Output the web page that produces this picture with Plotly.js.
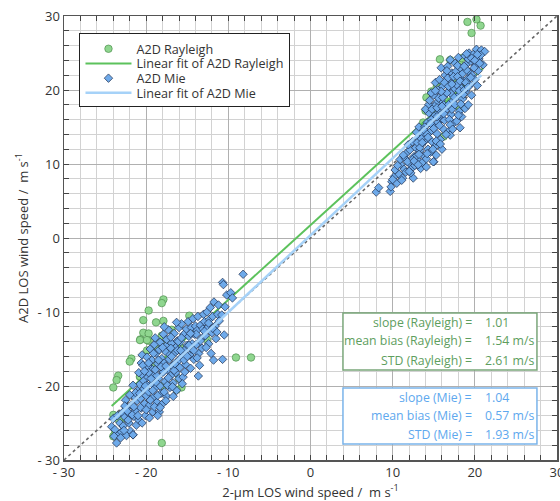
<!DOCTYPE html>
<html><head><meta charset="utf-8">
<script src="https://cdn.plot.ly/plotly-3.0.1.min.js"></script>
<style>body{margin:0;background:#fff}#c{width:560px;height:501px}</style>
</head><body><div id="c"></div>
<script>
// A2D Rayleigh (x: 2-um LOS wind, y: A2D LOS wind)
const rayX = [-17.9,-18.1,-19.7,-20.35,-18.8,-17.9,-14.75,-16.9,-20.35,-19.7,-20.7,-19.7,-18.7,-18.1,-17.5,-19.9,-18.9,-18.4,-12.6,-21.8,-22.0,-23.4,-23.6,-24.0,-20.75,-15.7,-16.3,-9.07,-7.24,-18.1,-24.0,-23.8,-24.0,-23.0,-15.9,-20.75,-19.9,-18.7,-20.75,-19.0,-17.0,-16.0,-21.0,-18.0,-23.3,-22.5,
  19.1,20.2,20.7,19.6,15.75,17.0,18.1,18.4,15.96,14.7,14.1,13.7,16.2,18.2,15.35,18.2,14.0,16.5,17.3];
const rayY = [-8.3,-8.8,-9.8,-11.1,-11.4,-11.2,-10.5,-12.4,-12.8,-12.9,-13.7,-13.9,-14.2,-13.2,-14.0,-15.2,-15.0,-14.8,-13.7,-16.3,-16.7,-18.6,-19.2,-20.2,-18.8,-20.2,-20.5,-16.15,-16.15,-27.7,-23.9,-26.4,-26.8,-24.5,-14.7,-13.8,-13.8,-14.7,-18.7,-17.0,-15.0,-19.0,-21.0,-20.0,-24.6,-23.4,
  29.2,29.55,28.7,27.7,24.15,24.05,23.6,24.3,20.7,19.8,19.0,15.6,13.7,17.5,20.4,17.7,17.2,18.5,21.0];
// A2D Mie
const mieX = [8.0,8.3,9.7,9.9,9.8,10.2,10.5,10.3,
  10.8,11.0,11.2,10.9,11.4,11.5,11.1,11.7,11.6,
  12.0,12.1,12.3,11.9,12.4,12.5,12.6,12.2,12.8,12.7,
  13.0,13.1,13.3,12.9,13.4,13.5,13.2,13.6,13.0,13.7,
  13.8,14.0,14.1,14.2,14.3,14.4,13.9,14.5,14.1,14.6,14.4,14.0,
  14.8,14.9,15.0,15.1,15.2,15.3,15.0,15.4,15.5,15.3,15.6,14.7,15.2,15.5,
  15.8,15.9,16.0,16.1,16.2,16.3,16.4,15.7,16.5,16.0,16.3,16.6,15.9,16.2,
  16.8,16.9,17.0,17.1,17.2,17.3,17.0,17.4,16.7,17.5,17.2,17.6,17.0,16.8,
  17.8,17.9,18.0,18.1,18.2,18.3,18.4,17.7,18.5,18.0,18.6,18.2,18.8,18.4,
  18.9,19.0,19.1,19.2,19.3,19.4,18.8,19.5,19.6,19.3,19.7,
  19.8,20.0,20.1,20.2,20.4,20.5,20.8,21.2,20.3,21.0,20.7,14.95,
  13.8,14.2,14.7,15.1,15.6,15.8,16.1,16.4,16.7,17.1,17.4,17.8,18.1,18.5,18.7,19.0,19.2,19.6,20.0,16.9,16.2,15.4,14.8,13.5,13.3,12.8,12.4,11.8,17.6,18.3,17.9,16.6,15.9,15.3,14.9,18.7,
  12.0,12.6,13.2,13.6,14.3,14.6,15.0,15.4,15.7,16.0,16.3,16.8,17.2,17.5,17.9,18.2,18.6,18.9,19.2,19.5,19.9,20.3,17.0,16.5,15.8,14.2,13.1,11.3,10.6,10.0,18.0,17.3,16.6,19.0,20.6,15.2,14.5,
  -24.2,-23.6,-23.4,-24.0,-23.8,-23.2,-23.0,-23.5,-22.9,
  -22.8,-22.6,-22.4,-22.3,-22.1,-22.0,-22.5,-21.9,-22.2,
  -21.8,-21.6,-21.5,-21.4,-21.3,-21.2,-21.0,-21.7,-21.1,-20.9,
  -20.8,-20.7,-20.6,-20.5,-20.4,-20.3,-20.2,-20.1,-20.0,-20.6,-20.3,-20.0,-20.5,-20.9,
  -19.9,-19.8,-19.7,-19.6,-19.5,-19.4,-19.3,-19.2,-19.1,-19.0,-19.6,-19.9,-19.3,-19.0,-19.5,-19.8,
  -18.9,-18.8,-18.7,-18.6,-18.5,-18.4,-18.3,-18.2,-18.1,-18.0,-18.9,-18.6,-18.3,-18.7,-18.1,-18.4,
  -17.9,-17.8,-17.7,-17.6,-17.5,-17.4,-17.3,-17.2,-17.1,-17.0,-17.6,-17.9,-17.2,-17.5,
  -16.9,-16.8,-16.7,-16.6,-16.5,-16.4,-16.3,-16.2,-16.1,-16.0,-16.7,-16.4,-16.0,-16.9,
  -15.9,-15.8,-15.7,-15.6,-15.5,-15.4,-15.3,-15.2,-15.1,-15.0,-15.6,-15.4,
  -14.9,-14.8,-14.7,-14.6,-14.5,-14.4,-14.3,-14.2,-14.1,-14.0,-14.5,
  -13.9,-13.8,-13.7,-13.6,-13.5,-13.4,-13.3,-13.65,-13.1,-13.0,-13.2,
  -12.9,-12.8,-12.6,-12.5,-12.4,-12.3,-12.2,-12.0,-12.1,-12.7,
  -11.9,-11.75,-11.6,-11.5,-11.3,-11.2,-11.8,-11.4,-11.1,
  -10.7,-10.6,-10.2,-9.7,-9.5,-8.2,-10.5,-10.7,-10.8,-10.4,-21.6,
  -19.4,-18.9,-18.2,-17.7,-17.0,-16.6,-16.2,-19.7,-20.1,-20.7,-21.3,-19.0,-17.4,-15.8,-14.8,-13.9,-20.4,-18.6,-17.8,-22.6,
  -23.9,-23.1,-22.7,-22.0,-21.6,-21.5,-20.8,-20.2,-20.0,-19.7,-19.2,-18.8,-18.5,-18.0,-17.6,-17.3,-17.0,-16.8,-16.5,-16.1,-15.7,-15.3,-15.0,-14.6,-14.2,-13.8,-13.4,-12.9,-12.4,-11.9,-19.1,-18.3,-21.0,-22.3,-17.8,-16.3];
const mieY = [6.2,6.8,6.3,7.6,6.9,8.3,7.4,9.2,
  8.6,9.9,8.1,10.6,9.3,10.8,7.8,11.5,8.9,
  10.1,11.9,9.4,12.6,13.0,8.1,11.0,8.8,12.2,9.8,
  10.6,13.5,11.8,14.3,9.4,12.6,15.0,10.2,12.9,14.0,
  11.1,13.2,9.6,15.6,12.0,16.9,15.0,14.3,10.7,11.6,18.0,17.4,
  13.0,15.2,10.3,16.5,12.4,18.2,19.3,14.1,20.0,11.2,17.0,19.6,21.0,15.6,
  13.3,18.6,16.1,20.5,14.7,19.3,22.0,21.4,17.5,12.0,15.9,20.9,23.0,18.0,
  14.4,19.9,13.9,16.7,22.3,18.5,21.1,15.5,23.2,20.2,17.4,23.6,24.1,18.0,
  15.8,19.1,21.7,17.1,23.0,20.3,16.4,22.5,18.8,24.4,21.2,14.9,17.5,22.8,
  19.8,23.5,21.5,18.0,22.4,20.7,24.6,23.9,19.3,25.0,22.0,
  24.8,21.4,23.3,25.5,22.6,24.2,25.4,25.2,20.6,23.4,24.7,10.3,
  14.6,14.0,16.0,17.8,18.9,16.6,19.0,17.2,21.6,19.5,21.8,20.7,19.9,22.2,20.0,22.7,24.2,24.3,24.0,16.0,16.8,16.4,17.4,13.4,12.2,11.0,10.6,10.3,18.0,18.1,23.3,19.6,19.8,13.1,12.0,23.2,
  9.0,10.4,11.3,12.9,13.6,15.5,14.8,17.6,15.2,17.8,21.0,20.5,20.8,19.0,21.8,21.2,19.4,21.0,20.4,21.7,23.0,24.8,15.3,14.0,12.7,11.4,9.9,11.2,9.8,7.9,16.6,14.7,22.6,24.9,23.6,19.9,18.6,
  -25.5,-27.7,-26.6,-24.4,-25.9,-25.0,-26.2,-24.0,-23.6,
  -25.4,-24.2,-26.7,-22.9,-25.0,-23.8,-21.9,-26.1,-24.6,
  -22.6,-26.6,-24.1,-21.5,-23.3,-25.3,-20.6,-23.9,-22.0,-24.6,
  -19.8,-21.7,-23.0,-25.0,-18.6,-20.4,-22.4,-24.0,-17.4,-16.9,-19.3,-21.3,-15.8,-18.2,
  -16.1,-18.8,-20.8,-22.6,-15.0,-17.6,-19.7,-23.5,-21.5,-14.4,-24.3,-19.9,-16.5,-18.5,-21.9,-17.3,
  -20.3,-15.6,-22.2,-17.0,-19.0,-23.5,-14.1,-21.0,-16.3,-18.1,-13.5,-24.0,-20.0,-18.6,-22.5,-15.1,
  -13.0,-16.9,-19.4,-14.6,-21.4,-17.8,-12.4,-15.7,-20.2,-18.6,-22.0,-18.1,-16.4,-13.7,
  -14.2,-17.3,-19.6,-12.9,-15.5,-18.2,-20.6,-13.9,-16.6,-12.1,-21.4,-14.8,-19.0,-16.0,
  -17.5,-14.0,-11.6,-16.0,-18.8,-13.0,-15.1,-17.1,-12.3,-14.5,-19.7,-16.5,
  -11.3,-13.3,-15.8,-17.6,-12.1,-14.3,-10.9,-16.4,-13.0,-11.9,-15.0,
  -14.4,-12.5,-10.6,-15.6,-17.2,-11.8,-13.6,-18.65,-12.3,-10.3,-14.9,
  -11.3,-13.2,-10.0,-12.1,-14.3,-11.0,-9.4,-12.8,-15.6,-14.8,
  -10.6,-8.65,-11.9,-13.6,-10.3,-9.05,-16.5,-12.7,-11.2,
  -6.0,-6.3,-7.7,-7.4,-8.1,-4.9,-13.1,-16.4,-10.4,-9.3,-26.6,
  -19.0,-17.8,-17.4,-15.3,-14.9,-17.9,-15.2,-18.2,-20.0,-22.9,-20.9,-22.8,-19.9,-15.2,-14.5,-13.0,-17.2,-21.3,-20.8,-22.7,
  -26.8,-27.0,-26.0,-21.2,-19.9,-22.8,-21.0,-18.0,-23.2,-16.9,-20.6,-19.5,-16.5,-14.8,-17.3,-18.9,-13.4,-20.1,-17.0,-14.0,-13.5,-18.1,-16.0,-12.9,-15.2,-16.2,-13.9,-12.6,-11.5,-12.2,-15.6,-22.9,-24.0,-23.4,-12.0,-11.4];
// Linear fits: x-range and fitted y values
const fitRayX = [-24.2, 21.0];
const fitRayY = [-22.7, 22.95];
const fitMieX = [-24.2, 20.8];
const fitMieY = [-24.8, 22.0];
const oneX = [-30, 30];
const oneY = [-30, 30];
// Axis ticks
const tickVals = [-30,-20,-10,0,10,20,30];
const tickText = ['- 30','- 20','- 10','0','10','20','30'];
// Statistics boxes
const rayLabels = ['slope (Rayleigh) =','mean bias (Rayleigh) =','STD (Rayleigh) ='];
const rayValues = ['1.01','1.54 m/s','2.61 m/s'];
const mieLabels = ['slope (Mie) =','mean bias (Mie) =','STD (Mie) ='];
const mieValues = ['1.04','0.57 m/s','1.93 m/s'];

const FONT = 'Open Sans, DejaVu Sans, sans-serif';
const green = '#5e9e5e', blue = '#5ea8ee';

const traces = [
  {x: oneX, y: oneY, mode: 'lines', line: {color: '#666', width: 1.6, dash: 'dot'}, showlegend: false, hoverinfo: 'skip'},
  {x: rayX, y: rayY, mode: 'markers', name: 'A2D Rayleigh',
   marker: {symbol: 'circle', size: 7.5, color: '#8fd68f', line: {color: '#4e8f4e', width: 0.7}}},
  {x: fitRayX, y: fitRayY, mode: 'lines', name: 'Linear fit of A2D Rayleigh', line: {color: '#5cc25c', width: 2}},
  {x: mieX, y: mieY, mode: 'markers', name: 'A2D Mie',
   marker: {symbol: 'diamond', size: 6.5, color: '#6eaaea', line: {color: '#1c2c4c', width: 0.7}}},
  {x: fitMieX, y: fitMieY, mode: 'lines', name: 'Linear fit of A2D Mie', line: {color: '#a6d2f8', width: 2.5}}
];

const annotations = [];
const rayRows = [-11.4, -13.85, -16.5];
const mieRows = [-21.5, -23.95, -26.55];
rayLabels.forEach((t,i)=>{
  annotations.push({x: 19.85, y: rayRows[i], xref:'x', yref:'y', text: t, showarrow:false, xanchor:'right', font:{family:FONT, size:12.3, color: green}});
  annotations.push({x: 21.0, y: rayRows[i], xref:'x', yref:'y', text: rayValues[i], showarrow:false, xanchor:'left', font:{family:FONT, size:12.3, color: green}});
});
mieLabels.forEach((t,i)=>{
  annotations.push({x: 19.85, y: mieRows[i], xref:'x', yref:'y', text: t, showarrow:false, xanchor:'right', font:{family:FONT, size:12.3, color: blue}});
  annotations.push({x: 21.0, y: mieRows[i], xref:'x', yref:'y', text: mieValues[i], showarrow:false, xanchor:'left', font:{family:FONT, size:12.3, color: blue}});
});

const axisCommon = {
  range: [-30, 30], tickvals: tickVals, ticktext: tickText, ticklabeloverflow: 'allow',
  ticks: 'inside', ticklen: 5, tickwidth: 1, tickcolor: '#444',
  showline: true, linecolor: '#555', linewidth: 1.5, mirror: 'ticks',
  showgrid: true, gridcolor: '#b0b0b0', gridwidth: 1, zeroline: false,
  minor: {dtick: 2, tick0: 0, showgrid: true, gridcolor: '#d2d2d2', gridwidth: 1, ticks: 'inside', ticklen: 5, tickcolor: '#444'},
  tickfont: {family: FONT, size: 13, color: '#333'}
};

const layout = {
  width: 560, height: 501,
  margin: {l: 64, r: 3, t: 16, b: 41},
  paper_bgcolor: '#fff', plot_bgcolor: '#fff',
  font: {family: FONT, color: '#333'},
  xaxis: Object.assign({}, axisCommon, {title: {text: '2-μm LOS wind speed /  m s<sup>-1</sup>', font: {family: FONT, size: 13, color: '#333'}, standoff: 4}}),
  yaxis: Object.assign({}, axisCommon, {title: {text: 'A2D LOS wind speed /  m s<sup>-1</sup>', font: {family: FONT, size: 13, color: '#333'}, standoff: 6}}),
  legend: {x: 0.031, y: 0.962, xanchor: 'left', yanchor: 'top', bgcolor: '#fff', bordercolor: '#222', borderwidth: 1.2,
           font: {family: FONT, size: 12.6, color: '#333'}, tracegroupgap: 0, itemwidth: 46},
  shapes: [
    {type: 'rect', xref: 'x', yref: 'y', x0: 3.95, x1: 27.56, y0: -10.14, y1: -17.84, line: {color: '#7aa67a', width: 1.5}, fillcolor: 'rgba(255,255,255,1)', layer: 'above'},
    {type: 'rect', xref: 'x', yref: 'y', x0: 3.95, x1: 27.56, y0: -20.27, y1: -27.84, line: {color: '#7ab4ea', width: 1.5}, fillcolor: 'rgba(255,255,255,1)', layer: 'above'}
  ],
  annotations: annotations
};

Plotly.newPlot('c', traces, layout, {displayModeBar: false, staticPlot: true}).then(gd => {
  // tighten legend row spacing to match the reference
  const items = gd.querySelectorAll('.legend .traces');
  if (!items.length) return;
  const parse = el => { const m = /translate\(([-\d.]+),\s*([-\d.]+)\)/.exec(el.getAttribute('transform') || ''); return m ? [+m[1], +m[2]] : [0, 0]; };
  const first = parse(items[0]);
  const last = parse(items[items.length - 1]);
  const orig = items.length > 1 ? (last[1] - first[1]) / (items.length - 1) : 0;
  const step = 14.7;
  items.forEach((el, i) => { const p = parse(el); el.setAttribute('transform', `translate(${p[0]},${first[1] + i * step})`); });
  const bg = gd.querySelector('.legend rect.bg');
  if (bg) { const h = parseFloat(bg.getAttribute('height')); bg.setAttribute('height', h - (items.length - 1) * (orig - step) - 2); }
});
</script></body></html>
